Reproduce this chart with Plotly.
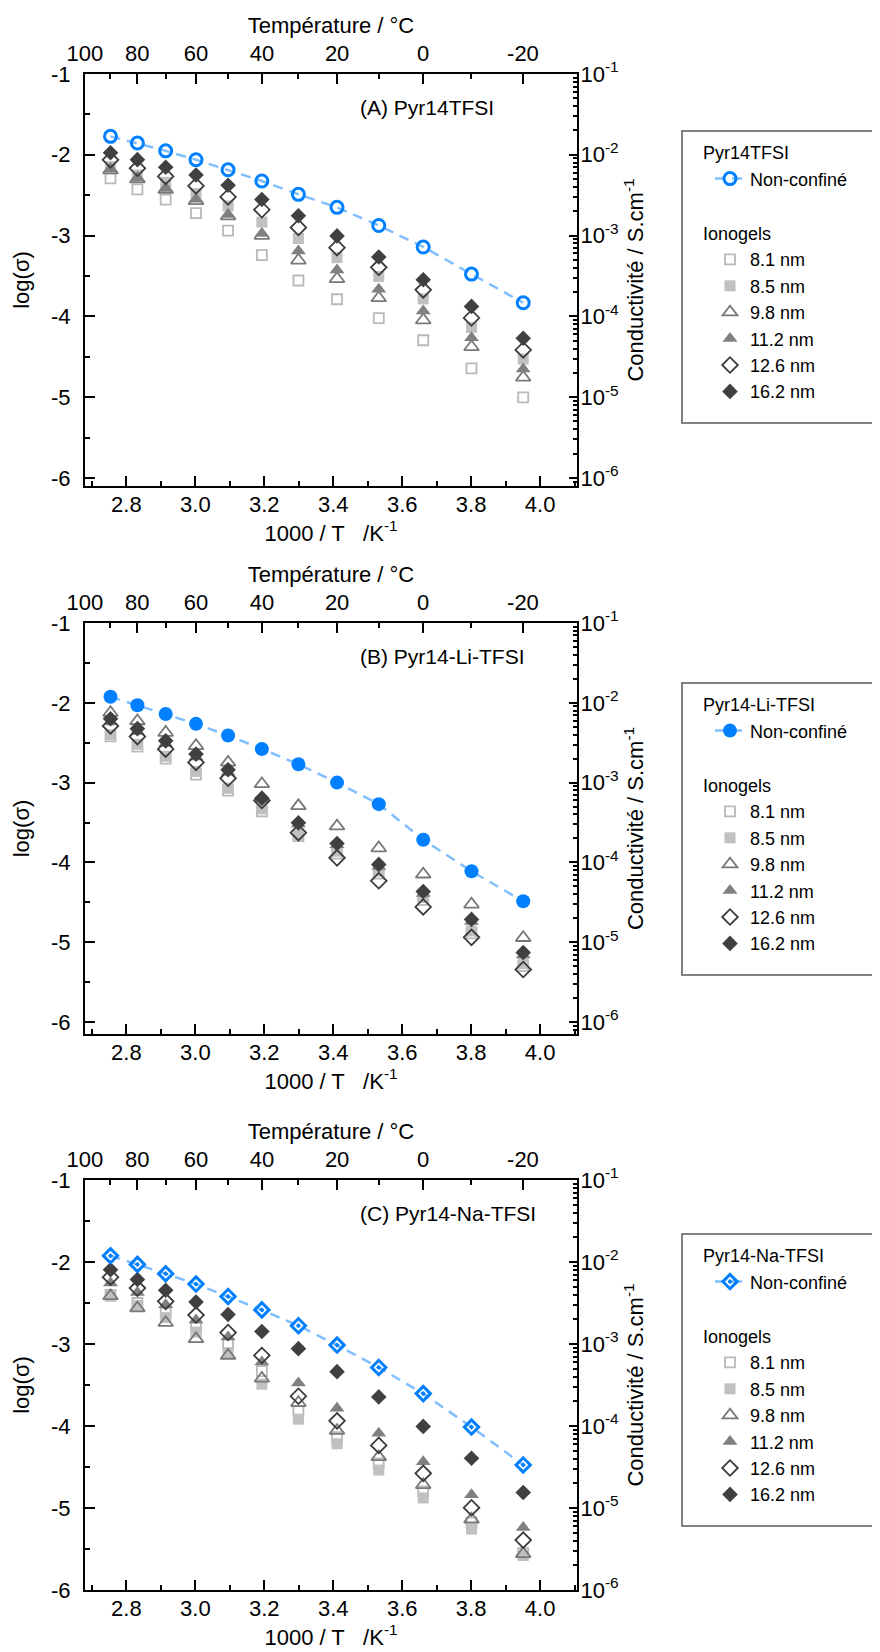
import math
import plotly.graph_objects as go

# ---------------- data ----------------
inv_T = [2.754, 2.832, 2.914, 3.002, 3.095, 3.193, 3.299, 3.411, 3.532, 3.661, 3.801, 3.951]

ionogel_names = ["8.1 nm", "8.5 nm", "9.8 nm", "11.2 nm", "12.6 nm", "16.2 nm"]

A_nonconf = [-1.772, -1.855, -1.951, -2.062, -2.186, -2.324, -2.490, -2.651, -2.876, -3.141, -3.477, -3.832]
A_8_1 = [-2.292, -2.429, -2.554, -2.721, -2.938, -3.242, -3.556, -3.788, -4.021, -4.296, -4.645, -5.004]
A_8_5 = [-2.146, -2.250, -2.340, -2.480, -2.633, -2.833, -3.036, -3.273, -3.506, -3.784, -4.137, -4.530]
A_9_8 = [-2.190, -2.300, -2.430, -2.570, -2.760, -3.000, -3.306, -3.535, -3.772, -4.046, -4.379, -4.756]
A_11_2 = [-2.175, -2.283, -2.417, -2.550, -2.738, -2.975, -3.190, -3.425, -3.665, -3.935, -4.265, -4.652]
A_12_6 = [-2.063, -2.167, -2.268, -2.385, -2.522, -2.680, -2.900, -3.150, -3.393, -3.672, -4.020, -4.416]
A_16_2 = [-1.975, -2.060, -2.155, -2.251, -2.378, -2.553, -2.755, -3.004, -3.265, -3.547, -3.877, -4.271]

B_nonconf = [-1.925, -2.030, -2.140, -2.264, -2.410, -2.578, -2.770, -3.000, -3.270, -3.716, -4.111, -4.487]
B_8_1 = [-2.420, -2.550, -2.700, -2.900, -3.100, -3.360, -3.670, -3.890, -4.140, -4.470, -4.890, -5.300]
B_8_5 = [-2.400, -2.520, -2.670, -2.860, -3.070, -3.330, -3.650, -3.860, -4.110, -4.440, -4.860, -5.270]
B_9_8 = [-2.124, -2.228, -2.373, -2.539, -2.747, -3.017, -3.291, -3.545, -3.820, -4.148, -4.525, -4.944]
B_11_2 = [-2.240, -2.360, -2.510, -2.680, -2.870, -3.210, -3.520, -3.780, -4.050, -4.390, -4.740, -5.160]
B_12_6 = [-2.290, -2.423, -2.581, -2.747, -2.946, -3.224, -3.627, -3.943, -4.230, -4.558, -4.939, -5.342]
B_16_2 = [-2.199, -2.324, -2.477, -2.643, -2.838, -3.195, -3.504, -3.763, -4.025, -4.365, -4.714, -5.128]

C_nonconf = [-1.924, -2.029, -2.143, -2.269, -2.420, -2.584, -2.777, -3.013, -3.286, -3.605, -4.013, -4.475]
C_8_1 = [-2.400, -2.500, -2.620, -2.800, -3.000, -3.330, -3.817, -4.137, -4.457, -4.797, -5.177, -5.550]
C_8_5 = [-2.418, -2.530, -2.678, -2.855, -3.105, -3.490, -3.917, -4.217, -4.537, -4.877, -5.257, -5.580]
C_9_8 = [-2.414, -2.563, -2.740, -2.938, -3.140, -3.420, -3.717, -4.057, -4.377, -4.717, -5.137, -5.559]
C_11_2 = [-2.257, -2.372, -2.522, -2.708, -2.915, -3.220, -3.477, -3.785, -4.089, -4.437, -4.837, -5.239]
C_12_6 = [-2.185, -2.318, -2.480, -2.647, -2.860, -3.140, -3.637, -3.937, -4.237, -4.577, -4.997, -5.391]
C_16_2 = [-2.095, -2.214, -2.345, -2.487, -2.640, -2.847, -3.057, -3.337, -3.645, -4.005, -4.394, -4.811]

temp_major = [100, 80, 60, 40, 20, 0, -20]
temp_minor = [90, 70, 50, 30, 10, -10]
log_major = [-1, -2, -3, -4, -5, -6]
log_left_text = ["-1", "-2", "-3", "-4", "-5", "-6"]
log_right_text = ["10<sup>-1</sup>", "10<sup>-2</sup>", "10<sup>-3</sup>",
                  "10<sup>-4</sup>", "10<sup>-5</sup>", "10<sup>-6</sup>"]
x_major = [2.8, 3.0, 3.2, 3.4, 3.6, 3.8, 4.0]
x_major_text = ["2.8", "3.0", "3.2", "3.4", "3.6", "3.8", "4.0"]

# ---------------- styling ----------------
W, H = 880, 1652
FONT = "Arial, 'Liberation Sans', sans-serif"
FS = 22          # tick labels / titles
FS_ANN = 21
FS_LEG = 18      # legend
XL, XR = 77, 569
X_RANGE = [2.68, 4.107]

BLUE = "rgb(0,128,255)"
LIGHT_BLUE = "rgb(128,190,255)"

ionogel_styles = [
    dict(symbol="square-open", color="rgb(185,185,185)", size=10, lw=1.8),
    dict(symbol="square", color="rgb(192,192,192)", size=11, lw=0),
    dict(symbol="triangle-up-open", color="rgb(120,120,120)", size=13, lw=1.8),
    dict(symbol="triangle-up", color="rgb(128,128,128)", size=13, lw=0),
    dict(symbol="diamond-open", color="rgb(60,60,60)", size=12, lw=1.8),
    dict(symbol="diamond", color="rgb(64,64,64)", size=12, lw=0),
]

panels = [
    dict(title="Pyr14TFSI", label="(A) Pyr14TFSI", nc=A_nonconf,
         ion=[A_8_1, A_8_5, A_9_8, A_11_2, A_12_6, A_16_2],
         top=66, bot=478, yr=[-6.1, -1], nc_sym="circle-open", nc_size=12, nc_lw=3,
         leg_title=153),
    dict(title="Pyr14-Li-TFSI", label="(B) Pyr14-Li-TFSI", nc=B_nonconf,
         ion=[B_8_1, B_8_5, B_9_8, B_11_2, B_12_6, B_16_2],
         top=615, bot=1026, yr=[-6.15, -1], nc_sym="circle", nc_size=14, nc_lw=0,
         leg_title=705),
    dict(title="Pyr14-Na-TFSI", label="(C) Pyr14-Na-TFSI", nc=C_nonconf,
         ion=[C_8_1, C_8_5, C_9_8, C_11_2, C_12_6, C_16_2],
         top=1172, bot=1582, yr=[-6.0, -1], nc_sym="diamond-open-dot", nc_size=11, nc_lw=3,
         leg_title=1256),
]


def sfx(n):
    return "" if n == 1 else str(n)


fig = go.Figure()
layout = {}
annotations = []
shapes = []

log_minor = []
for dec in range(-7, 0):
    for k in range(2, 10):
        log_minor.append(dec + math.log10(k))

for i, p in enumerate(panels):
    xb, xt, yl, yr = 2 * i + 1, 2 * i + 2, 2 * i + 1, 2 * i + 2
    leg = "legend" + sfx(i + 1)
    xa, ya = "x" + sfx(xb), "y" + sfx(yl)
    xa2, ya2 = "x" + sfx(xt), "y" + sfx(yr)

    for j, (name, vals, st) in enumerate(zip(ionogel_names, p["ion"], ionogel_styles)):
        fig.add_trace(go.Scatter(
            x=inv_T, y=vals, mode="markers", name=name,
            xaxis=xa, yaxis=ya, legend=leg,
            legendgroup=f"ion{i}", legendrank=10 + j,
            legendgrouptitle=dict(text="Ionogels", font=dict(size=FS_LEG)),
            marker=dict(symbol=st["symbol"], color=st["color"], size=st["size"],
                        line=dict(color=st["color"], width=st["lw"])),
        ))
    fig.add_trace(go.Scatter(
        x=inv_T, y=p["nc"], mode="lines+markers", name="Non-confiné",
        xaxis=xa, yaxis=ya, legend=leg,
        legendgroup=f"nc{i}", legendrank=1,
        legendgrouptitle=dict(text=p["title"], font=dict(size=FS_LEG)),
        line=dict(color=LIGHT_BLUE, width=2.5, dash="10px,7px"),
        marker=dict(symbol=p["nc_sym"], color=BLUE, size=p["nc_size"],
                    line=dict(color=BLUE, width=p["nc_lw"])),
    ))
    # transparent copy so that the secondary (top / right) axes are drawn
    fig.add_trace(go.Scatter(
        x=inv_T, y=p["nc"], mode="markers", xaxis=xa2, yaxis=ya2,
        marker=dict(opacity=0, color=BLUE), showlegend=False, hoverinfo="skip",
    ))

    ydom = [1 - p["bot"] / H, 1 - p["top"] / H]

    common = dict(showline=True, linecolor="black", linewidth=2, showgrid=False,
                  zeroline=False, ticks="inside", tickwidth=2, ticklen=10,
                  tickcolor="black", tickfont=dict(size=FS, color="black"),
                  tickmode="array", automargin=False)

    layout["xaxis" + sfx(xb)] = dict(
        common, domain=[XL / W, XR / W], anchor=ya, range=X_RANGE,
        tickvals=x_major, ticktext=x_major_text, ticklabelstandoff=-2,
        minor=dict(dtick=0.1, tick0=2.7, ticks="inside", ticklen=5, tickwidth=1.5, tickcolor="black"),
        title=dict(text="1000 / T\u00a0\u00a0\u00a0/K<sup>-1</sup>", font=dict(size=FS), standoff=0),
    )
    layout["xaxis" + sfx(xt)] = dict(
        common, overlaying=xa, anchor=ya, side="top", range=X_RANGE,
        tickvals=[1000 / (t + 273.15) for t in temp_major],
        ticktext=[str(t) for t in temp_major], ticklabelstandoff=2,
        minor=dict(tickmode="array", tickvals=[1000 / (t + 273.15) for t in temp_minor],
                   ticks="inside", ticklen=5, tickwidth=1.5, tickcolor="black"),
        title=dict(text="Température / °C", font=dict(size=FS), standoff=2),
    )
    layout["yaxis" + sfx(yl)] = dict(
        common, domain=ydom, anchor=xa, range=p["yr"],
        tickvals=log_major, ticktext=log_left_text, ticklabelstandoff=8,
        minor=dict(dtick=0.5, tick0=-1, ticks="inside", ticklen=5, tickwidth=1.5, tickcolor="black"),
        title=dict(text="log(σ)", font=dict(size=FS), standoff=15),
    )
    layout["yaxis" + sfx(yr)] = dict(
        common, overlaying=ya, anchor=xa, side="right", range=p["yr"],
        tickvals=log_major, ticktext=log_right_text, ticklen=8, ticklabelstandoff=-3,
        minor=dict(tickmode="array", tickvals=log_minor, ticks="inside", ticklen=4,
                   tickwidth=1.5, tickcolor="black"),
        title=dict(text="Conductivité / S.cm<sup>-1</sup>", font=dict(size=FS), standoff=10),
    )

    annotations.append(dict(
        text=p["label"], xref="paper", yref="paper", x=350 / W, y=1 - (p["top"] + 33) / H,
        xanchor="left", yanchor="middle", showarrow=False, font=dict(size=FS_ANN, color="black"),
    ))

    lt = p["leg_title"]
    layout[leg] = dict(
        x=690 / W, y=1 - (lt - 27) / H, xanchor="left", yanchor="top",
        bgcolor="rgba(0,0,0,0)", borderwidth=0, tracegroupgap=28, indentation=12,
        font=dict(size=FS_LEG, color="black"), traceorder="grouped", itemsizing="trace",
    )
    shapes.append(dict(
        type="rect", xref="paper", yref="paper", x0=674 / W, x1=1.02,
        y0=1 - (lt + 262) / H, y1=1 - (lt - 30) / H,
        line=dict(color="rgb(90,90,90)", width=1.5), fillcolor="rgba(0,0,0,0)",
    ))

fig.update_layout(
    width=W, height=H, margin=dict(l=0, r=0, t=0, b=0),
    paper_bgcolor="white", plot_bgcolor="white",
    font=dict(family=FONT, size=FS, color="black"),
    showlegend=True, annotations=annotations, shapes=shapes,
    **layout,
)

fig.write_html("out.html")
